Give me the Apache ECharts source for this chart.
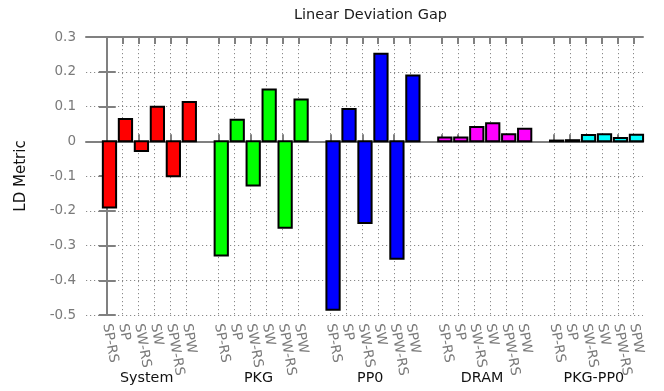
<!DOCTYPE html>
<html>
<head>
<meta charset="utf-8">
<script src="https://cdn.jsdelivr.net/npm/echarts@6/dist/echarts.min.js"></script>
<style>
  html, body { margin: 0; padding: 0; background: #ffffff; }
  #chart { width: 664px; height: 391px; }
</style>
</head>
<body>
<div id="chart"></div>
<script>
// Groups along the x axis and the bar labels repeated inside each group
const groups = ['System', 'PKG', 'PP0', 'DRAM', 'PKG-PP0'];
const barLabels = ['SP-RS', 'SP', 'SW-RS', 'SW', 'SPW-RS', 'SPW'];
const groupColors = ['#ff0000', '#00ff00', '#0000ff', '#ff00ff', '#00ffff'];

// Linear deviation metric per group, in barLabels order
const systemVals = [-0.191, 0.064, -0.028, 0.099, -0.101, 0.113];
const pkgVals    = [-0.329, 0.062, -0.127, 0.149, -0.249, 0.120];
const pp0Vals    = [-0.485, 0.093, -0.235, 0.252, -0.338, 0.189];
const dramVals   = [0.011, 0.011, 0.041, 0.052, 0.020, 0.036];
const pkgPp0Vals = [0.002, 0.003, 0.018, 0.020, 0.009, 0.019];

// Y axis range and step
const yMin = -0.5, yMax = 0.3, yStep = 0.1;

const groupValues = [systemVals, pkgVals, pp0Vals, dramVals, pkgPp0Vals];

// Slot layout: six bars per group plus one empty slot between groups
const slotsPerGroup = barLabels.length + 1;
const barShift = 0.17;      // boxes sit slightly right of their tick
const barUnits = 0.83;      // box width in slot units
const xMin = -1.3, xMax = 33.58;

const tickSlots = [];
groups.forEach((g, gi) => barLabels.forEach((b, bi) => tickSlots.push(gi * slotsPerGroup + bi)));
const groupCenters = groups.map((g, gi) => gi * slotsPerGroup + (barLabels.length - 1) / 2);

const AXIS_GRAY = '#808080';
const TEXT_GRAY = '#7a7a7a';
const GRID_GRAY = '#8a8a8a';
const FONT = 'DejaVu Sans';

// Boxes drawn from the zero line to each value, sized through the axis scales
function boxRenderer(color) {
  return function (params, api) {
    const x = api.value(0);
    const y = api.value(1);
    const base = api.coord([x, 0]);
    const top = api.coord([x, y]);
    const w = api.size([barUnits, 0])[0];
    return {
      type: 'rect',
      shape: {
        x: base[0] - w / 2,
        y: Math.min(base[1], top[1]),
        width: w,
        height: Math.abs(top[1] - base[1])
      },
      style: { fill: color, stroke: '#000000', lineWidth: 2 }
    };
  };
}

const series = groups.map((g, gi) => ({
  name: g,
  type: 'custom',
  xAxisIndex: 0,
  yAxisIndex: 0,
  renderItem: boxRenderer(groupColors[gi]),
  encode: { x: 0, y: 1 },
  data: groupValues[gi].map((v, bi) => [gi * slotsPerGroup + bi + barShift, v])
}));

const chart = echarts.init(document.getElementById('chart'), null, { renderer: 'canvas' });

chart.setOption({
  animation: false,
  backgroundColor: '#ffffff',
  title: {
    text: 'Linear Deviation Gap',
    left: 289,
    top: 3,
    textStyle: { fontFamily: FONT, fontSize: 14.5, fontWeight: 'normal', color: '#1a1a1a' }
  },
  grid: { left: 86, right: 21, top: 37, bottom: 76, containLabel: false },
  xAxis: [
    {
      type: 'value', position: 'bottom', min: xMin, max: xMax,
      axisLine: { show: true, lineStyle: { color: AXIS_GRAY, width: 2 } },
      axisTick: { show: true, inside: true, length: 7, customValues: tickSlots,
                  lineStyle: { color: AXIS_GRAY, width: 2 } },
      axisLabel: {
        show: true, customValues: tickSlots, rotate: -80, margin: 9,
        color: TEXT_GRAY, fontFamily: FONT, fontSize: 13.5,
        formatter: v => barLabels[Math.round(v) % slotsPerGroup]
      },
      splitLine: { show: true, lineStyle: { color: GRID_GRAY, width: 1, type: [1.2, 2.8] } }
    },
    {
      type: 'value', position: 'bottom', min: xMin, max: xMax,
      axisLine: { show: false }, axisTick: { show: false }, splitLine: { show: false },
      axisLabel: {
        show: true, customValues: groupCenters, margin: 56,
        color: '#111111', fontFamily: FONT, fontSize: 14.3,
        formatter: v => groups[Math.round((v - 2.5) / slotsPerGroup)]
      }
    },
    {
      type: 'value', position: 'top', min: xMin, max: xMax,
      axisLine: { show: true, lineStyle: { color: AXIS_GRAY, width: 2 } },
      axisTick: { show: true, inside: true, length: 7, customValues: tickSlots,
                  lineStyle: { color: AXIS_GRAY, width: 2 } },
      axisLabel: { show: false }, splitLine: { show: false }
    }
  ],
  yAxis: [
    {
      type: 'value', position: 'left', min: yMin, max: yMax, interval: yStep,
      name: 'LD Metric', nameLocation: 'middle', nameRotate: 90, nameGap: 57,
      nameTextStyle: { fontFamily: FONT, fontSize: 15, color: '#111111' },
      axisLine: { show: true, lineStyle: { color: AXIS_GRAY, width: 2 } },
      axisTick: { show: true, inside: true, length: 9, lineStyle: { color: AXIS_GRAY, width: 2 } },
      axisLabel: { color: TEXT_GRAY, fontFamily: FONT, fontSize: 13.5, margin: 10,
                   formatter: v => String(Math.round(v * 10) / 10) },
      splitLine: { show: true, lineStyle: { color: GRID_GRAY, width: 1, type: [1.2, 2.8] } }
    },
    {
      type: 'value', position: 'right', min: yMin, max: yMax, interval: yStep,
      axisLine: { show: true, lineStyle: { color: AXIS_GRAY, width: 2 } },
      axisTick: { show: true, inside: true, length: 8, lineStyle: { color: AXIS_GRAY, width: 2 } },
      axisLabel: { show: false }, splitLine: { show: false }
    }
  ],
  series: series
});
</script>
</body>
</html>
